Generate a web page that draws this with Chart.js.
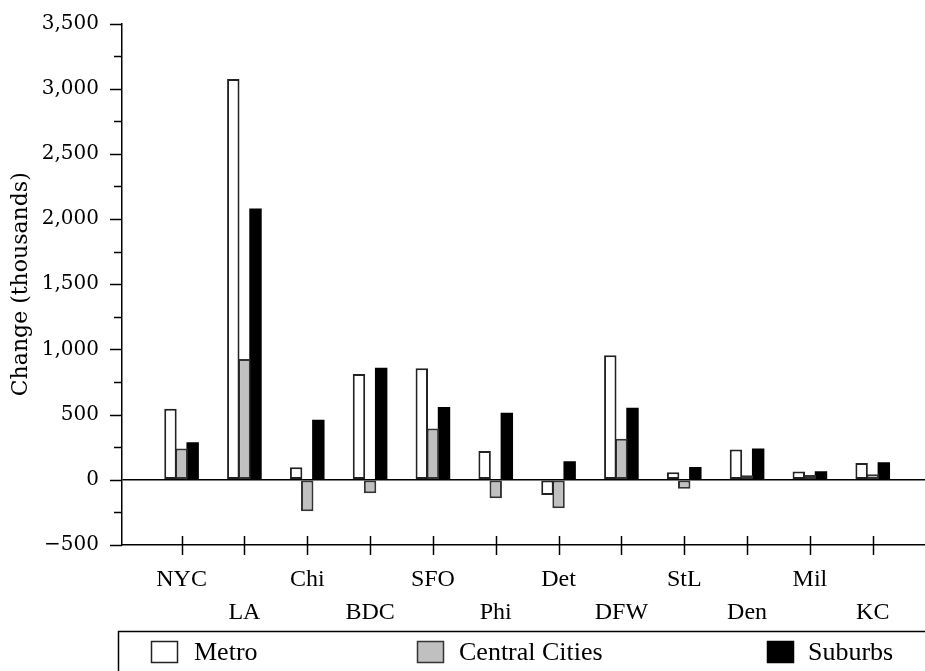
<!DOCTYPE html>
<html>
<head>
<meta charset="utf-8">
<script src="https://cdn.jsdelivr.net/npm/chart.js@4/dist/chart.umd.min.js"></script>
<style>
html,body{margin:0;padding:0;background:#fff;}
#wrap{width:925px;height:671px;position:relative;}
</style>
</head>
<body>
<div id="wrap"><canvas id="c" width="925" height="671"></canvas></div>
<script>
// ---- data ----
const categories = ['NYC','LA','Chi','BDC','SFO','Phi','Det','DFW','StL','Den','Mil','KC'];
const metro   = [545, 3075,   96,  812, 855,  221, -117, 955,  58, 232, 63, 129];
const central = [240,  927, -242, -104, 393, -142, -219, 315, -68,  35, 37,  42];
const suburbs = [288, 2081,  460,  860, 558,  515,  143, 552,  98, 240, 65, 135];
const seriesNames = ['Metro', 'Central Cities', 'Suburbs'];
const yTickValues = [-500, 0, 500, 1000, 1500, 2000, 2500, 3000, 3500];
const yTitle = 'Change (thousands)';

// ---- helpers ----
const toPoints = arr => arr.map((v, i) => ({x: i, y: v}));
const fmtY = v => (v < 0 ? '\u2212' : '') + Math.abs(v).toLocaleString('en-US');

const SERIF = 'DejaVu Serif';
const TIMES = 'Liberation Serif';

const tickPlugin = {
  id: 'customTicks',
  afterDraw(chart) {
    const {ctx, chartArea: a} = chart;
    const x = chart.scales.x, y = chart.scales.y;
    ctx.save();
    ctx.strokeStyle = '#000';
    ctx.lineWidth = 1.5;
    ctx.beginPath();
    y.ticks.forEach(t => {
      const py = Math.round(y.getPixelForValue(t.value)) + 0.5;
      const len = yTickValues.includes(t.value) ? 12 : 8;
      ctx.moveTo(a.left - len, py);
      ctx.lineTo(a.left, py);
    });
    x.ticks.forEach(t => {
      const px = Math.round(x.getPixelForValue(t.value)) + 0.5;
      ctx.moveTo(px, a.bottom - 9);
      ctx.lineTo(px, a.bottom + 10);
    });
    ctx.stroke();
    ctx.restore();
  }
};

const legendPlugin = {
  id: 'boxLegend',
  afterDraw(chart) {
    const {ctx} = chart;
    const boxX = [151, 417, 767];
    const textX = [194, 459, 808];
    ctx.save();
    ctx.strokeStyle = '#000';
    ctx.lineWidth = 1.5;
    ctx.strokeRect(118.5, 631.5, 900, 80);
    chart.data.datasets.forEach((ds, i) => {
      ctx.fillStyle = ds.backgroundColor;
      ctx.fillRect(boxX[i], 641, 27, 22);
      ctx.strokeStyle = ds.borderColor;
      ctx.lineWidth = 1.5;
      ctx.strokeRect(boxX[i] + 0.5, 641.5, 26, 21);
      ctx.fillStyle = '#000';
      ctx.font = '26px "' + TIMES + '"';
      ctx.textBaseline = 'middle';
      ctx.textAlign = 'left';
      ctx.fillText(ds.label, textX[i], 653);
    });
    ctx.restore();
  }
};

new Chart(document.getElementById('c'), {
  type: 'bar',
  data: {
    datasets: [
      {label: seriesNames[0], data: toPoints(metro),   backgroundColor: '#ffffff', borderColor: '#222222', borderWidth: 2, borderSkipped: false},
      {label: seriesNames[1], data: toPoints(central), backgroundColor: '#c0c0c0', borderColor: '#333333', borderWidth: 2, borderSkipped: false},
      {label: seriesNames[2], data: toPoints(suburbs), backgroundColor: '#000000', borderColor: '#000000', borderWidth: 0, borderSkipped: false}
    ]
  },
  options: {
    responsive: false,
    animation: false,
    devicePixelRatio: 1,
    categoryPercentage: 0.53,
    barPercentage: 1.12,
    layout: {padding: {top: 23.5, right: 0, bottom: 0, left: 0}},
    plugins: {legend: {display: false}, tooltip: {enabled: false}},
    scales: {
      x: {
        type: 'linear',
        offset: false,
        min: -0.948,
        max: 11.832,
        afterBuildTicks: s => { s.ticks = categories.map((_, i) => ({value: i})); },
        afterFit: s => { s.height = 126; s.paddingLeft = 0; s.paddingRight = 0; },
        ticks: {
          autoSkip: false,
          maxRotation: 0,
          padding: 19,
          color: '#000',
          font: {family: TIMES, size: 24, lineHeight: 1.35},
          callback: v => { const i = Math.round(v); return i % 2 === 0 ? [categories[i], ''] : ['', categories[i]]; }
        },
        grid: {display: true, offset: false, drawOnChartArea: false, drawTicks: false},
        border: {display: true, color: '#000', width: 1.5}
      },
      y: {
        min: -500,
        max: 3500,
        afterFit: s => { s.width = 122; s.paddingTop = 0; s.paddingBottom = 0; },
        ticks: {
          stepSize: 250,
          padding: 23,
          color: '#000',
          font: {family: SERIF, size: 20},
          callback: v => yTickValues.includes(v) ? fmtY(v) : ''
        },
        grid: {
          drawTicks: false,
          color: c => (c.tick && c.tick.value === 0) ? '#000' : 'rgba(0,0,0,0)',
          lineWidth: 1.5
        },
        border: {display: true, color: '#000', width: 1.5},
        title: {display: true, text: yTitle, color: '#000', font: {family: SERIF, size: 22}, padding: {top: 8, bottom: 0}}
      }
    }
  },
  plugins: [tickPlugin, legendPlugin]
});
</script>
</body>
</html>
